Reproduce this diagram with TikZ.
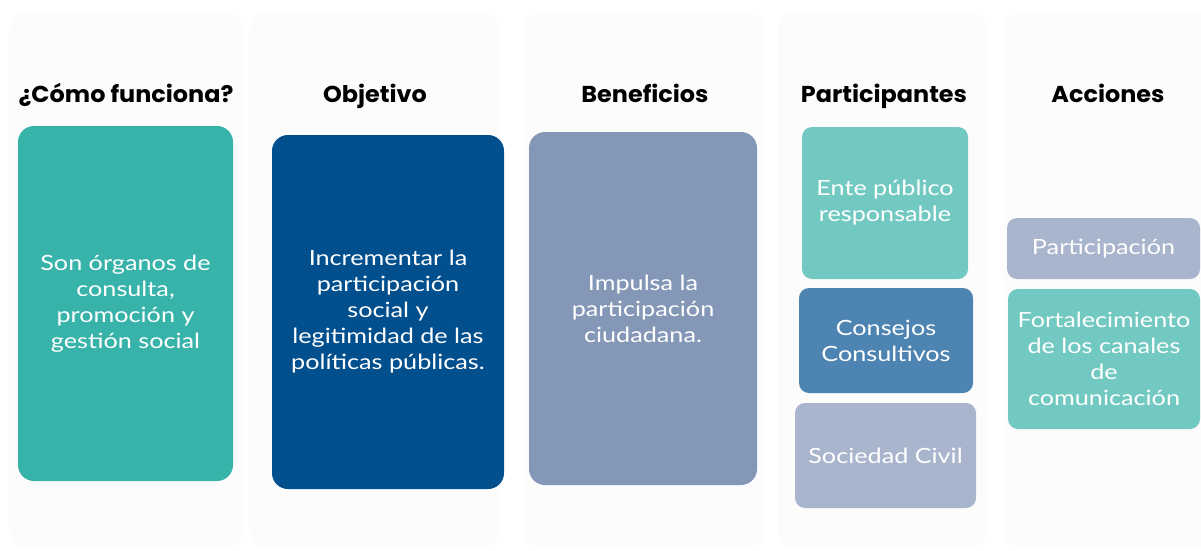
\documentclass[tikz,border=0pt]{standalone}
\usepackage{fontspec}
\setmainfont{Lato}[FakeStretch=1.2]
\newfontfamily\headfont{Poppins}[FakeStretch=1.04]

\definecolor{panelgray}{HTML}{FCFCFC}
\definecolor{tealdark}{HTML}{37B3AA}
\definecolor{tealsoft}{HTML}{72C9C1}
\definecolor{navy}{HTML}{024F8E}
\definecolor{steel}{HTML}{4D84B2}
\definecolor{slate}{HTML}{8497B7}
\definecolor{lilac}{HTML}{A9B4CD}

\begin{document}
\begin{tikzpicture}[x=1pt, y=-1pt,
  panel/.style={fill=panelgray, rounded corners=20pt},
  card/.style={rectangle, rounded corners=16pt, text=white, align=center,
    inner sep=0pt, font=\fontsize{21}{26}\selectfont},
  small card/.style={card, rounded corners=10pt},
  head/.style={anchor=base, font=\headfont\bfseries\fontsize{23}{26}\selectfont}]
  \useasboundingbox (0,0) rectangle (1201,550);

	% column backgrounds
	\fill[panel] (9,11) rectangle (243,549);
	\fill[panel] (249,11) rectangle (500,549);
	\fill[panel] (523,11) rectangle (765,549);
	\fill[panel] (778,11) rectangle (988,549);
	\fill[panel] (1003,11) rectangle (1225,549);

	% headers
	\node[head] (hcomo) at (126,102) {¿Cómo funciona?};
	\node[head] (hobj) at (375,102) {Objetivo};
	\node[head] (hben) at (645,102) {Beneficios};
	\node[head] (hpart) at (884,102) {Participantes};
	\node[head] (hacc) at (1108,102) {Acciones};

	% main cards
	\node[card, fill=tealdark, minimum width=215pt, minimum height=355pt] (como) at (125.5,303.5)
		{Son órganos de\\consulta,\\promoción y\\gestión social};
	\node[card, fill=navy, minimum width=232pt, minimum height=354pt] (obj) at (388,312)
		{Incrementar la\\participación\\social y\\legitimidad de las\\políticas públicas.};
	\node[card, fill=slate, minimum width=228pt, minimum height=353pt] (ben) at (643,308.5)
		{Impulsa la\\participación\\ciudadana.};

	% participantes
	\node[small card, fill=tealsoft, minimum width=166pt, minimum height=152pt] (ente) at (885,203)
		{Ente público\\responsable};
	\node[small card, fill=steel, minimum width=174pt, minimum height=105pt] (consejos) at (886,340.5)
		{Consejos\\Consultivos};
	\node[small card, fill=lilac, minimum width=181pt, minimum height=105pt] (sociedad) at (885.5,455.5)
		{Sociedad Civil};

	% acciones
	\node[small card, fill=lilac, minimum width=193pt, minimum height=61pt] (particip) at (1103.5,248.5)
		{Participación};
	\node[small card, fill=tealsoft, minimum width=192pt, minimum height=140pt] (fortal) at (1104,359)
		{Fortalecimiento\\de los canales\\de\\comunicación};
\end{tikzpicture}
\end{document}
